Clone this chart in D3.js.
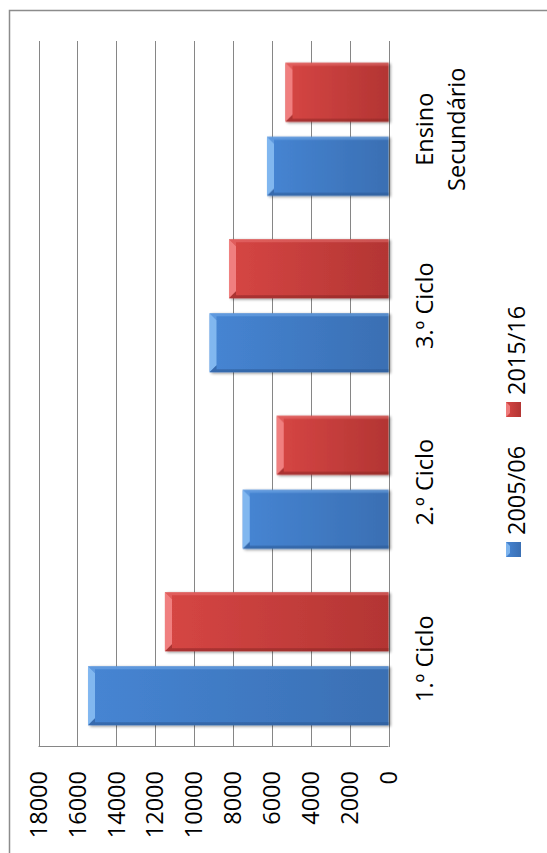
<!DOCTYPE html>
<html>
<head>
<meta charset="utf-8">
<script src="https://cdn.jsdelivr.net/npm/d3@7"></script>
<style>
  body { margin: 0; background: #fff; }
  svg text { font-family: "Open Sans", "Noto Sans", sans-serif; fill: #000; }
</style>
</head>
<body>
<div id="chart"></div>
<script>
var categories = ["1.º Ciclo", "2.º Ciclo", "3.º Ciclo", "Ensino Secundário"];
var series = ["2005/06", "2015/16"];
var values0506 = [15450, 7500, 9200, 6250];
var values1516 = [11500, 5750, 8200, 5300];
var ticks = [0, 2000, 4000, 6000, 8000, 10000, 12000, 14000, 16000, 18000];

var W = 547, H = 853;

var svg = d3.select("#chart")
  .append("svg")
  .attr("width", W)
  .attr("height", H);

// frame of the chart area (only top and left edges are visible)
svg.append("rect")
  .attr("x", 9.5)
  .attr("y", 10.5)
  .attr("width", W + 20)
  .attr("height", H + 20)
  .attr("fill", "none")
  .attr("stroke", "#8c8c8c")
  .attr("stroke-width", 1.5);

var defs = svg.append("defs");

var colors = {
  "2005/06": {light: "#8cc0f5", top: "#4685d3", bottom: "#3a6fb3", dark: "#2d5a96"},
  "2015/16": {light: "#f58a8a", top: "#d64644", bottom: "#b33533", dark: "#8f2826"}
};

series.forEach(function(s, i) {
  var g = defs.append("linearGradient")
    .attr("id", "grad" + i)
    .attr("x1", 0).attr("y1", 0)
    .attr("x2", 0).attr("y2", 1);
  g.append("stop").attr("offset", "0%").attr("stop-color", colors[s].top);
  g.append("stop").attr("offset", "100%").attr("stop-color", colors[s].bottom);
});

var shadow = defs.append("filter")
  .attr("id", "shadow")
  .attr("x", "-20%").attr("y", "-20%")
  .attr("width", "140%").attr("height", "140%");
shadow.append("feGaussianBlur").attr("in", "SourceAlpha").attr("stdDeviation", 1.5);
shadow.append("feOffset").attr("dx", -1.5).attr("dy", 1.5).attr("result", "off");
shadow.append("feComponentTransfer").append("feFuncA").attr("type", "linear").attr("slope", 0.45);
var merge = shadow.append("feMerge");
merge.append("feMergeNode");
merge.append("feMergeNode").attr("in", "SourceGraphic");

// the whole chart is a column chart turned 90 degrees counter-clockwise
var chart = svg.append("g")
  .attr("transform", "translate(0," + H + ") rotate(-90)");

var x0 = d3.scaleBand()
  .domain(categories)
  .range([106, 812]);

var x1 = d3.scaleBand()
  .domain(series)
  .range([21.75, 154.75])
  .paddingInner(0.203);

var y = d3.scaleLinear()
  .domain([0, 18000])
  .range([388.5, 38.5]);

// gridlines
chart.selectAll(".grid")
  .data(ticks)
  .enter()
  .append("line")
    .attr("class", "grid")
    .attr("x1", 106)
    .attr("x2", 812)
    .attr("y1", function(d) { return Math.round(y(d)) + 0.5; })
    .attr("y2", function(d) { return Math.round(y(d)) + 0.5; })
    .attr("stroke", "#868686")
    .attr("stroke-width", 1);

// value axis
chart.append("line")
  .attr("x1", 106.5).attr("x2", 106.5)
  .attr("y1", y(18000)).attr("y2", y(0))
  .attr("stroke", "#868686");

chart.selectAll(".tick-label")
  .data(ticks)
  .enter()
  .append("text")
    .attr("class", "tick-label")
    .attr("x", 82)
    .attr("y", function(d) { return y(d); })
    .attr("dy", "0.35em")
    .attr("text-anchor", "end")
    .attr("font-size", 23.5)
    .text(function(d) { return d; });

// bars
var rows = categories.map(function(c, i) {
  return {cat: c, vals: [
    {s: series[0], v: values0506[i], k: 0},
    {s: series[1], v: values1516[i], k: 1}
  ]};
});

var groups = chart.selectAll(".cat")
  .data(rows)
  .enter()
  .append("g")
    .attr("class", "cat")
    .attr("transform", function(d) { return "translate(" + x0(d.cat) + ",0)"; });

var bars = groups.selectAll(".bar")
  .data(function(d) { return d.vals; })
  .enter()
  .append("g")
    .attr("class", "bar")
    .attr("filter", "url(#shadow)");

bars.append("rect")
  .attr("x", function(d) { return x1(d.s); })
  .attr("y", function(d) { return y(d.v); })
  .attr("width", x1.bandwidth())
  .attr("height", function(d) { return y(0) - y(d.v); })
  .attr("fill", function(d) { return "url(#grad" + d.k + ")"; });

// bevel: light cap at the end, light and dark rims on the sides
var bev = 7, rim = 3;
bars.append("path")
  .attr("d", function(d) {
    var a = x1(d.s), b = a + x1.bandwidth(), t = y(d.v);
    return "M" + a + "," + t + "L" + b + "," + t + "L" + (b - bev) + "," + (t + bev) +
      "L" + (a + bev) + "," + (t + bev) + "Z";
  })
  .attr("fill", function(d) { return colors[d.s].light; })
  .attr("opacity", 0.85);

bars.append("path")
  .attr("d", function(d) {
    var b = x1(d.s) + x1.bandwidth(), t = y(d.v), z = y(0);
    return "M" + b + "," + t + "L" + b + "," + z + "L" + (b - rim) + "," + z +
      "L" + (b - rim) + "," + (t + bev) + "L" + (b - bev) + "," + (t + bev) + "Z";
  })
  .attr("fill", function(d) { return colors[d.s].light; })
  .attr("opacity", 0.35);

bars.append("path")
  .attr("d", function(d) {
    var a = x1(d.s), t = y(d.v), z = y(0);
    return "M" + a + "," + t + "L" + a + "," + z + "L" + (a + rim) + "," + z +
      "L" + (a + rim) + "," + (t + bev) + "L" + (a + bev) + "," + (t + bev) + "Z";
  })
  .attr("fill", function(d) { return colors[d.s].dark; })
  .attr("opacity", 0.6);

// category labels
var catLabels = chart.selectAll(".cat-label")
  .data(categories)
  .enter()
  .append("text")
    .attr("class", "cat-label")
    .attr("x", function(d) { return x0(d) + x0.bandwidth() / 2; })
    .attr("y", 433)
    .attr("text-anchor", "middle")
    .attr("font-size", 23.5);

catLabels.each(function(d) {
  var words = d === "Ensino Secundário" ? ["Ensino", "Secundário"] : [d];
  var t = d3.select(this);
  words.forEach(function(w, i) {
    t.append("tspan")
      .attr("x", x0(d) + x0.bandwidth() / 2)
      .attr("dy", i === 0 ? 0 : 32)
      .text(w);
  });
});

// legend
var legendX = [296, 436];
var legend = chart.selectAll(".legend")
  .data(series)
  .enter()
  .append("g")
    .attr("class", "legend")
    .attr("transform", function(d, i) { return "translate(" + legendX[i] + ",506)"; });

legend.append("rect")
  .attr("width", 15)
  .attr("height", 15)
  .attr("fill", function(d, i) { return "url(#grad" + i + ")"; });

legend.append("path")
  .attr("d", "M0,0L15,0L11,4L4,4Z")
  .attr("fill", function(d) { return colors[d].light; })
  .attr("opacity", 0.8);

legend.append("text")
  .attr("x", 22)
  .attr("y", 19)
  .attr("font-size", 23.5)
  .text(function(d) { return d; });
</script>
</body>
</html>
